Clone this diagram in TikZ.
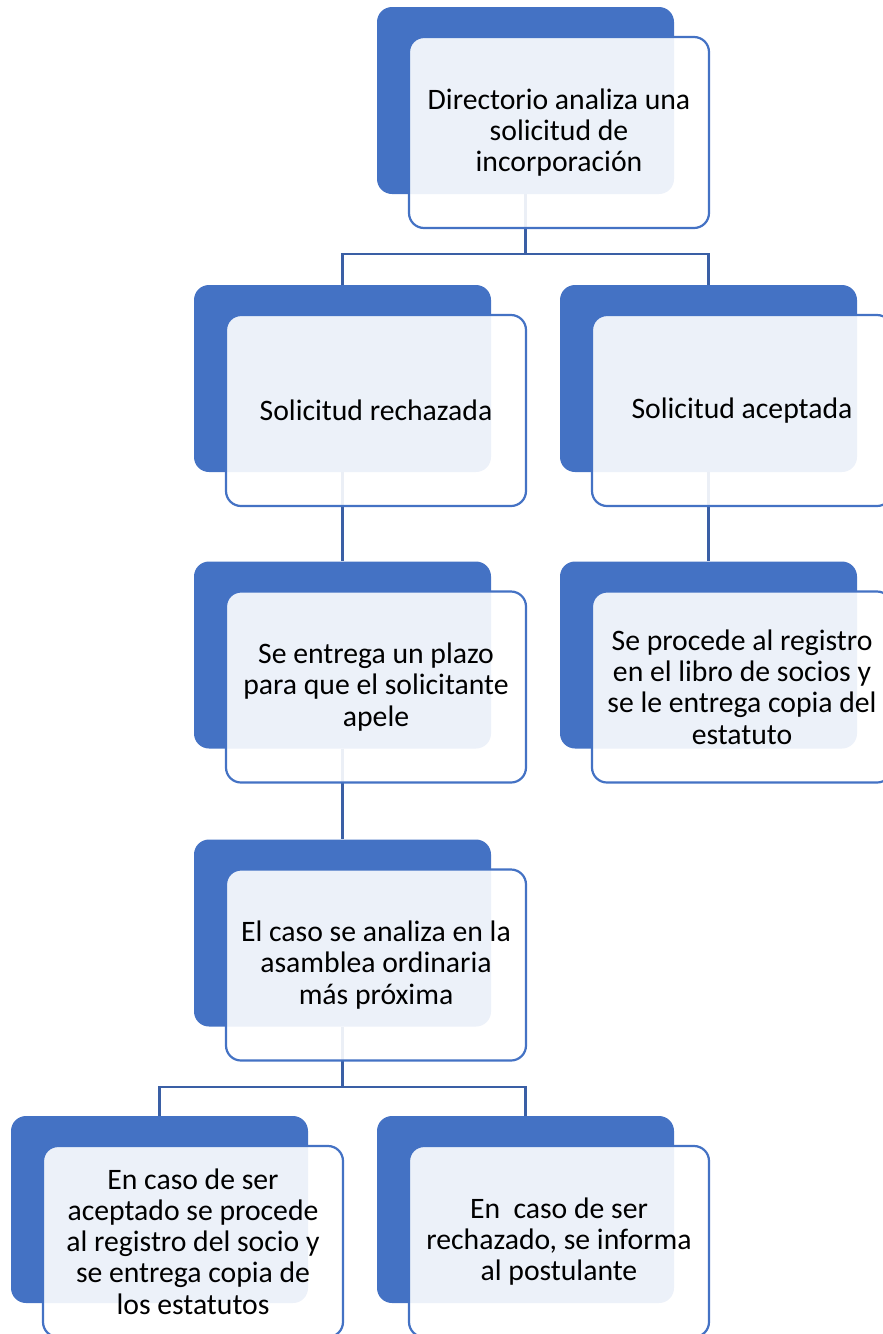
\documentclass[tikz,border=0pt]{standalone}
\usepackage{fontspec}
\setmainfont{Carlito}
\definecolor{cardblue}{HTML}{4472C4}
\definecolor{linkblue}{HTML}{3A5FA5}
\begin{document}
\begin{tikzpicture}[x=1pt,y=-1pt,
    back/.style={fill=cardblue,rounded corners=15pt,inner sep=0pt,
        minimum width=297pt,minimum height=187pt},
    front/.style={draw=cardblue,line width=2.2pt,fill=white,fill opacity=0.9,
        text opacity=1,rounded corners=15pt,inner sep=0pt,
        minimum width=300pt,minimum height=191pt,align=center,
        font=\fontsize{29.7}{31.2}\selectfont},
    conn/.style={draw=linkblue,line width=2.6pt}]
    \useasboundingbox (0,0) rectangle (883,1334);

    % Back cards
    \node[back] (dir) at (525.5,100.5) {};
    \node[back] (rech) at (342.5,378.5) {};
    \node[back] (acep) at (708.5,378.5) {};
    \node[back] (plazo) at (342.5,655) {};
    \node[back] (reg) at (708.5,655) {};
    \node[back] (asam) at (342.5,933) {};
    \node[back] (sia) at (159.5,1209.5) {};
    \node[back] (sir) at (525.5,1209.5) {};

    % Connectors
    \coordinate (j1) at (525.5,254);
    \draw[conn] (dir.south) -- (j1) -| (rech.north);
    \draw[conn] (j1) -| (acep.north);
    \draw[conn] (rech.south) -- (plazo.north);
    \draw[conn] (acep.south) -- (reg.north);
    \draw[conn] (plazo.south) -- (asam.north);
    \coordinate (j2) at (342.5,1087);
    \draw[conn] (asam.south) -- (j2) -| (sia.north);
    \draw[conn] (j2) -| (sir.north);

    % Front cards
    \node[front] (dirT) at ([shift={(33.5,32)}]dir.center)
        {Directorio analiza una\\solicitud de\\incorporación};
    \node[front] (rechT) at ([shift={(33.5,32)}]rech.center)
        {Solicitud rechazada};
    \node[front] (acepT) at ([shift={(33.5,32)}]acep.center)
        {Solicitud aceptada};
    \node[front] (plazoT) at ([shift={(33.5,32)}]plazo.center)
        {Se entrega un plazo\\para que el solicitante\\apele};
    \node[front] (regT) at ([shift={(33.5,32)}]reg.center)
        {Se procede al registro\\en el libro de socios y\\se le entrega copia del\\estatuto};
    \node[front] (asamT) at ([shift={(33.5,32)}]asam.center)
        {El caso se analiza en la\\asamblea ordinaria\\más próxima};
    \node[front] (siaT) at ([shift={(33.5,32)}]sia.center)
        {En caso de ser\\aceptado se procede\\al registro del socio y\\se entrega copia de\\los estatutos};
    \node[front] (sirT) at ([shift={(33.5,32)}]sir.center)
        {En\ \ caso de ser\\rechazado, se informa\\al postulante};
\end{tikzpicture}
\end{document}
